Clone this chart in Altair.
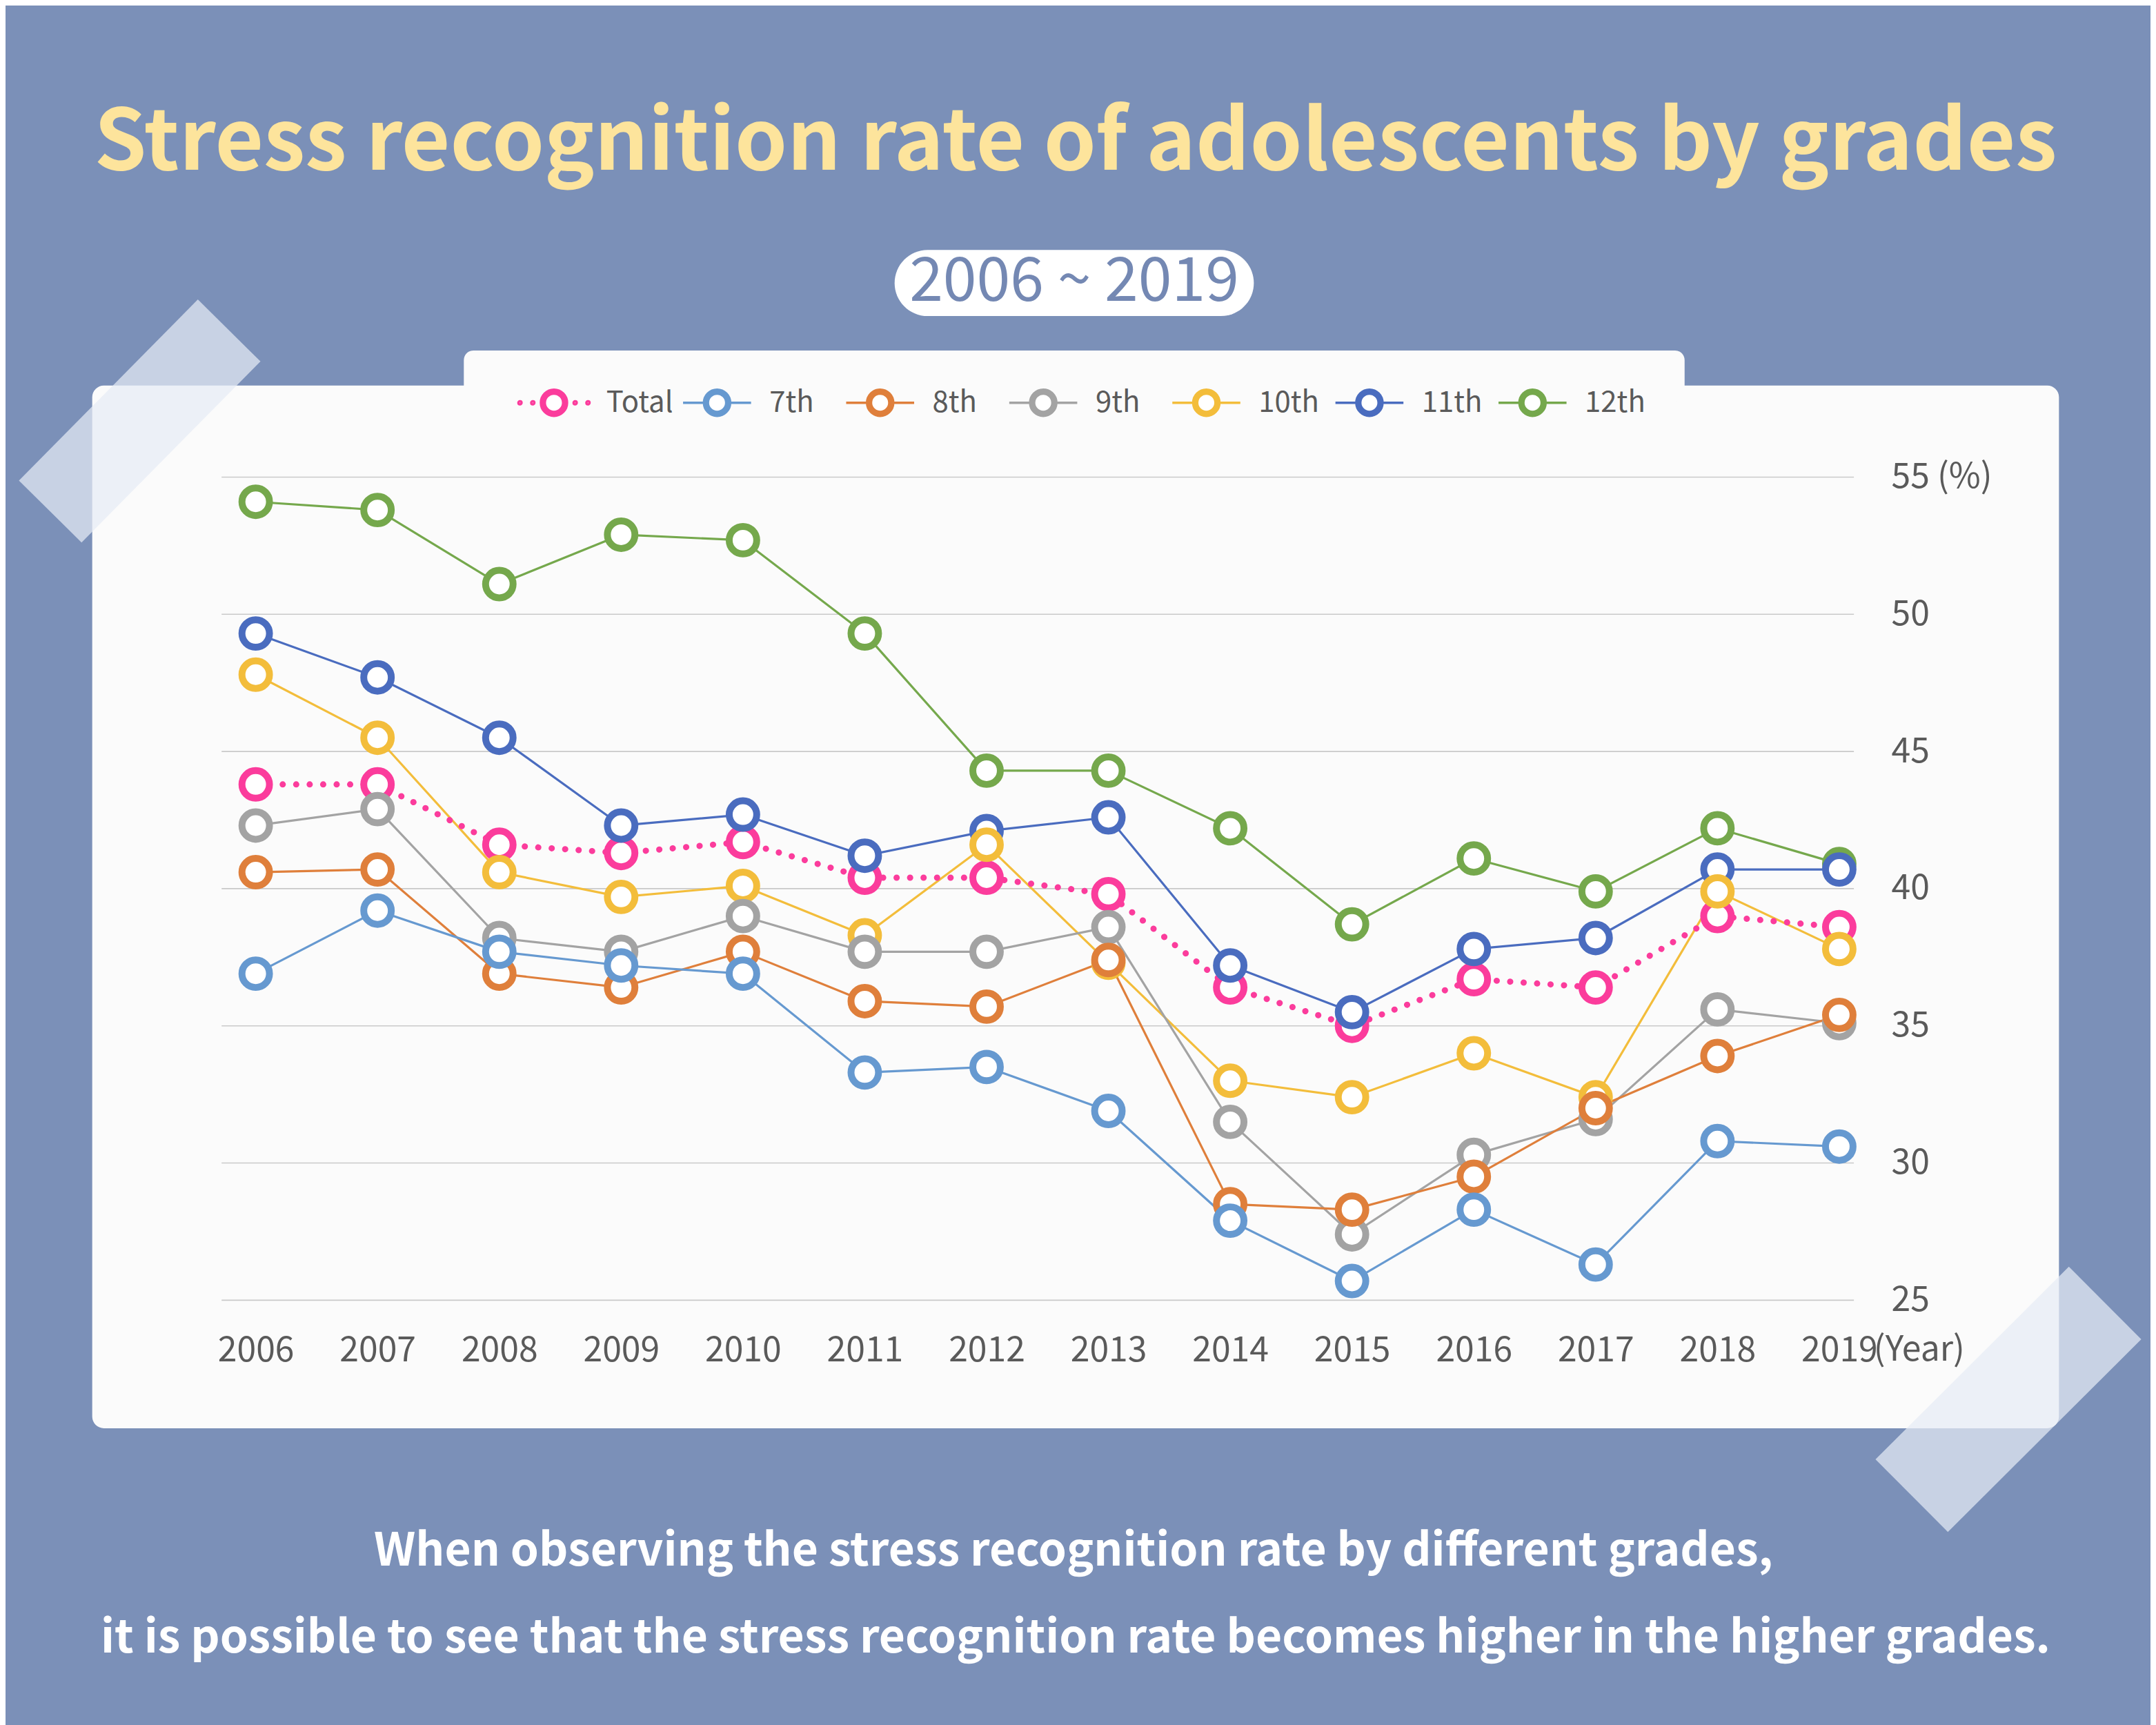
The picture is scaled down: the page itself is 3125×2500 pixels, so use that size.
import altair as alt
import pandas as pd

# ---------------- data ----------------
years = list(range(2006, 2020))
series_names = ["Total", "7th", "8th", "9th", "10th", "11th", "12th"]
total = [43.8, 43.8, 41.6, 41.3, 41.7, 40.4, 40.4, 39.8, 36.4, 35.0, 36.7, 36.4, 39.0, 38.6]
grade7 = [36.9, 39.2, 37.7, 37.2, 36.9, 33.3, 33.5, 31.9, 27.9, 25.7, 28.3, 26.3, 30.8, 30.6]
grade8 = [40.6, 40.7, 36.9, 36.4, 37.7, 35.9, 35.7, 37.4, 28.5, 28.3, 29.5, 32.0, 33.9, 35.4]
grade9 = [42.3, 42.9, 38.2, 37.7, 39.0, 37.7, 37.7, 38.6, 31.5, 27.4, 30.3, 31.6, 35.6, 35.1]
grade10 = [47.8, 45.5, 40.6, 39.7, 40.1, 38.3, 41.6, 37.3, 33.0, 32.4, 34.0, 32.4, 39.9, 37.8]
grade11 = [49.3, 47.7, 45.5, 42.3, 42.7, 41.2, 42.1, 42.6, 37.2, 35.5, 37.8, 38.2, 40.7, 40.7]
grade12 = [54.1, 53.8, 51.1, 52.9, 52.7, 49.3, 44.3, 44.3, 42.2, 38.7, 41.1, 39.9, 42.2, 40.9]
y_ticks = [25, 30, 35, 40, 45, 50, 55]

title_text = "Stress recognition rate of adolescents by grades"
subtitle_text = "2006 ~ 2019"
caption_line1 = "When observing the stress recognition rate by different grades,"
caption_line2 = "it is possible to see that the stress recognition rate becomes higher in the higher grades."
x_unit_text = "(Year)"

colors = ["#fb3c9c", "#6699d0", "#df7f3b", "#a3a3a3", "#f3bd3b", "#4a6cbf", "#75a84c"]

values = {"Total": total, "7th": grade7, "8th": grade8, "9th": grade9,
          "10th": grade10, "11th": grade11, "12th": grade12}
draw_order = ["Total", "12th", "11th", "10th", "9th", "8th", "7th"]
rows = []
for name in draw_order:
    for yr, v in zip(years, values[name]):
        rows.append({"Year": yr, "Series": name, "Rate": v})
df = pd.DataFrame(rows)

FONT = "Noto Sans CJK KR"
BG = "#7b90b8"
W, H = 2372, 1196
x_scale = alt.Scale(domain=[2005.72, 2019.12], nice=False, zero=False)
y_scale = alt.Scale(domain=[25, 55], nice=False, zero=False)

# ---------------- encodings ----------------
x_axis = alt.Axis(values=years, format="d", title=None, grid=False, domain=False,
                  ticks=False, labelPadding=48, labelFontSize=50, labelFont=FONT,
                  labelColor="#5a5a5a", zindex=1, labelAngle=0)
y_axis = alt.Axis(orient="right", values=y_ticks, title=None, grid=False, domain=False,
                  ticks=False, labelPadding=54, labelFontSize=50, labelFont=FONT,
                  labelColor="#5a5a5a", zindex=1,
                  labelExpr="datum.value == 55 ? '55 (%)' : datum.label")
x_enc = alt.X("Year:Q", scale=x_scale, axis=x_axis)
y_enc = alt.Y("Rate:Q", scale=y_scale, axis=y_axis)

legend = alt.Legend(title=None, orient="none", legendX=462, legendY=-129, direction="horizontal",
                    labelFont=FONT, labelFontSize=42, labelColor="#5a5a5a", labelOffset=55,
                    columnPadding=6, gridAlign="all", symbolSize=1444, symbolStrokeWidth=3.5,
                    symbolFillColor="white", symbolOpacity=1, padding=0, labelLimit=400)

color_enc = alt.Color("Series:N", scale=alt.Scale(domain=series_names, range=colors), legend=legend)

ring = ("M-1,0A1,1,0,1,1,1,0A1,1,0,1,1,-1,0"
        "M-0.85,0A0.85,0.85,0,1,1,0.85,0A0.85,0.85,0,1,1,-0.85,0"
        "M-0.7,0A0.7,0.7,0,1,1,0.7,0A0.7,0.7,0,1,1,-0.7,0")
solid_sym = "M-2.6,0L-1,0M1,0L2.6,0" + ring
def dot(cx, r=0.12):
    return f"M{cx - r},0A{r},{r},0,1,1,{cx + r},0A{r},{r},0,1,1,{cx - r},0"
dotted_sym = dot(-2.6) + dot(-1.62) + dot(1.62) + dot(2.6) + ring
shape_range = [dotted_sym] + [solid_sym] * 6

# ---------------- decorations ----------------
one = pd.DataFrame({"k": [0]})

card = alt.Chart(one).mark_rect(color="#fbfbfb", cornerRadius=17).encode(
    x=alt.value(-188), x2=alt.value(2670), y=alt.value(-133), y2=alt.value(1382))
tab = alt.Chart(one).mark_rect(color="#fbfbfb", cornerRadius=14).encode(
    x=alt.value(352), x2=alt.value(2126), y=alt.value(-184), y2=alt.value(-110))
tape1 = alt.Chart(one).mark_rule(color="#e6ecf5", opacity=0.72, strokeWidth=128, strokeCap="butt").encode(
    x=alt.value(-249), y=alt.value(50), x2=alt.value(11), y2=alt.value(-213))
tape2 = alt.Chart(one).mark_rule(color="#e6ecf5", opacity=0.72, strokeWidth=149, strokeCap="butt").encode(
    x=alt.value(2456), y=alt.value(1480), x2=alt.value(2737), y2=alt.value(1200))
pill = alt.Chart(one).mark_rect(color="#ffffff", cornerRadius=48).encode(
    x=alt.value(978), x2=alt.value(1500), y=alt.value(-330), y2=alt.value(-234))

def text_layer(txt, x, y, size, color, weight="normal", baseline="alphabetic"):
    return alt.Chart(pd.DataFrame({"t": [txt]})).mark_text(
        font=FONT, fontSize=size, color=color, fontWeight=weight, align="center",
        baseline=baseline).encode(text="t:N", x=alt.value(x), y=alt.value(y))

title_layer = text_layer(title_text, 1241, -447, 122, "#fde49c", "bold")
subtitle_layer = text_layer(subtitle_text, 1239, -282, 88, "#7488b3", "normal", "middle")
cap1 = text_layer(caption_line1, 1238, 1582, 66, "#ffffff", "bold")
cap2 = text_layer(caption_line2, 1241, 1708, 66, "#ffffff", "bold")

# ---------------- chart layers ----------------
grid = alt.Chart(pd.DataFrame({"Rate": y_ticks})).mark_rule(color="#c9c9c9", strokeWidth=1.6).encode(
    y=alt.Y("Rate:Q", scale=y_scale, axis=y_axis))

base = alt.Chart(df)
lines_grades = base.transform_filter("datum.Series != 'Total'").mark_line(
    strokeWidth=3.2, strokeJoin="round").encode(x=x_enc, y=y_enc, color=color_enc, detail="Series:N")
line_total = base.transform_filter("datum.Series == 'Total'").mark_line(
    strokeWidth=9, strokeDash=[0.1, 19.5], strokeCap="round").encode(x=x_enc, y=y_enc, color=color_enc)
points = base.mark_point(shape="circle", filled=False, fill="white", size=1600, strokeWidth=10,
                         opacity=1).encode(x=x_enc, y=y_enc, color=color_enc)
legend_layer = base.transform_filter("false").mark_point(filled=False, opacity=1).encode(
    x=x_enc, y=y_enc, color=color_enc,
    shape=alt.Shape("Series:N", scale=alt.Scale(domain=series_names, range=shape_range), legend=legend))

year_unit = alt.Chart(pd.DataFrame({"Year": [2019], "t": [x_unit_text]})).mark_text(
    font=FONT, fontSize=50, color="#5a5a5a", align="left", baseline="top", dx=50).encode(
    x=alt.X("Year:Q", scale=x_scale, axis=x_axis),
    y=alt.value(H + 48), text="t:N")

chart = alt.layer(
    card, tab, tape1, tape2, pill, title_layer, subtitle_layer, cap1, cap2,
    grid, lines_grades, line_total, points, legend_layer, year_unit
).properties(
    width=W, height=H,
    background=BG,
    padding={"left": 314, "top": 682, "right": 431, "bottom": 614},
    autosize=alt.AutoSizeParams(type="none"),
).configure_view(stroke=None)

chart.save("out.html", embed_options={"renderer": "svg", "actions": False})
